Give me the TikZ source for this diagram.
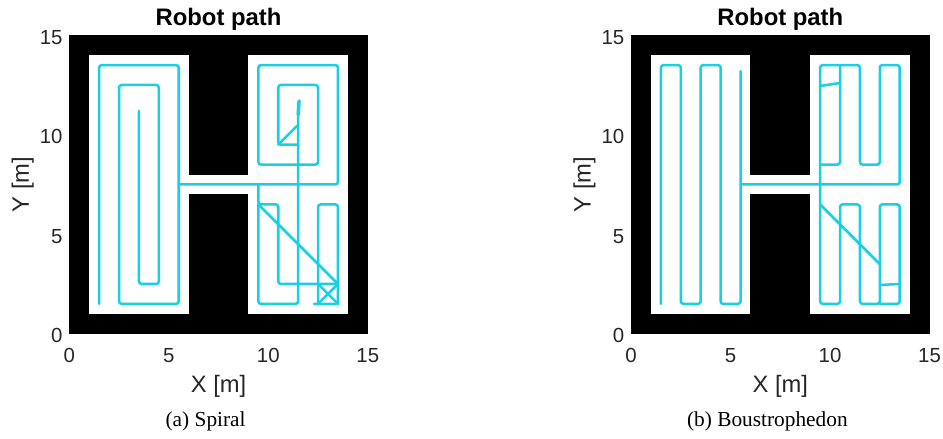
\documentclass[tikz,border=0pt]{standalone}
\usepackage{fontspec}
\setmainfont{Liberation Serif}
\newfontfamily\axisfont{Liberation Sans}
\definecolor{robot}{RGB}{24,208,230}
\definecolor{ticktext}{RGB}{38,38,38}
\tikzset{
  trace/.style={draw=robot,line width=1.9pt,rounded corners=2pt,line cap=round},
  ticklabel/.style={font=\axisfont\fontsize{15.3pt}{17pt}\selectfont,text=ticktext,inner sep=0pt},
  axislabel/.style={font=\axisfont\fontsize{17.8pt}{20pt}\selectfont,text=ticktext,inner sep=0pt},
  plottitle/.style={font=\axisfont\bfseries\fontsize{17.9pt}{20pt}\selectfont,inner sep=0pt},
  subcaption/.style={font=\fontsize{16pt}{18pt}\selectfont,inner sep=0pt}
}

\begin{document}
\begin{tikzpicture}[x=14.925pt,y=14.925pt]
  \useasboundingbox (-3.4825,-5.241) rectangle (43.905,16.77);

  % both panels: map, ticks and labels
  \foreach \ox/\pname/\ptext in {0/a/(a) Spiral,28.23/b/(b) Boustrophedon}{
    \begin{scope}[xshift=\ox*14.925pt]
      \fill[black] (0,0) rectangle (15,15);
      \fill[white] (1,1) rectangle (6,14);
      \fill[white] (9,1) rectangle (14,14);
      \fill[white] (6,7) rectangle (9,8);
      \foreach \t in {0,5,10,15}{
        \node[ticklabel] (xtick\pname\t) at (\t,-1.1) {\t};
        \node[ticklabel,anchor=east] (ytick\pname\t) at (-0.33,\t-0.1) {\t};
      }
      \node[plottitle] (title\pname) at (7.5,15.82) {Robot path};
      \node[axislabel] (xlabel\pname) at (7.5,-2.65) {X [m]};
      \node[axislabel,rotate=90] (ylabel\pname) at (-2.34,7.5) {Y [m]};
      \node[subcaption] (caption\pname) at (6.85,-4.42) {\ptext};
    \end{scope}
  }

  % spiral
  \draw[trace] (1.5,1.5) -- (1.5,13.5) -- (5.5,13.5) -- (5.5,1.5) -- (2.5,1.5) -- (2.5,12.5)
    -- (4.5,12.5) -- (4.5,2.5) -- (3.5,2.5) -- (3.5,11.2);
  \draw[trace] (5.5,7.5) -- (13.5,7.5) -- (13.5,13.5) -- (9.5,13.5) -- (9.5,8.5)
    -- (12.5,8.5) -- (12.5,12.5) -- (10.5,12.5) -- (10.5,9.5) -- (11.5,9.5);
  \draw[trace] (10.5,9.5) -- (11.45,10.45);
  \draw[trace] (9.5,7.5) -- (9.5,6.5) -- (10.5,6.5) -- (10.5,2.5) -- (13.5,2.5) -- (13.5,1.5) -- (12.3,1.5);
  \draw[trace] (9.5,6.5) -- (13.5,2.5);
  \draw[trace] (9.5,6.5) -- (9.5,1.5) -- (11.5,1.5) -- (11.5,11.6);
  \draw[trace,line width=2.5pt] (11.5,11) -- (11.55,11.7);
  \draw[trace] (13.5,2.5) -- (13.5,6.5) -- (12.5,6.5) -- (12.5,1.5);
  \draw[trace] (12.5,2.5) -- (13.5,1.5);
  \draw[trace] (12.5,1.5) -- (13.5,2.5);

  % boustrophedon
  \begin{scope}[xshift=28.23*14.925pt]
    \draw[trace] (1.5,1.5) -- (1.5,13.5) -- (2.5,13.5) -- (2.5,1.5) -- (3.5,1.5) -- (3.5,13.5)
      -- (4.5,13.5) -- (4.5,1.5) -- (5.5,1.5) -- (5.5,13.2);
    \draw[trace] (5.5,7.5) -- (13.5,7.5) -- (13.5,13.5) -- (12.5,13.5) -- (12.5,8.5) -- (11.5,8.5)
      -- (11.5,13.5) -- (9.5,13.5) -- (9.5,1.5) -- (10.5,1.5) -- (10.5,6.5) -- (11.5,6.5)
      -- (11.5,1.5) -- (12.5,1.5) -- (12.5,6.5) -- (13.5,6.5) -- (13.5,1.5) -- (12.5,1.5);
    \draw[trace] (10.5,13.5) -- (10.5,8.5) -- (9.5,8.5);
    \draw[trace] (9.5,12.45) -- (10.5,12.6);
    \draw[trace] (9.5,6.5) -- (12.5,3.5);
    \draw[trace] (12.5,2.45) -- (13.5,2.5);
  \end{scope}
\end{tikzpicture}
\end{document}
